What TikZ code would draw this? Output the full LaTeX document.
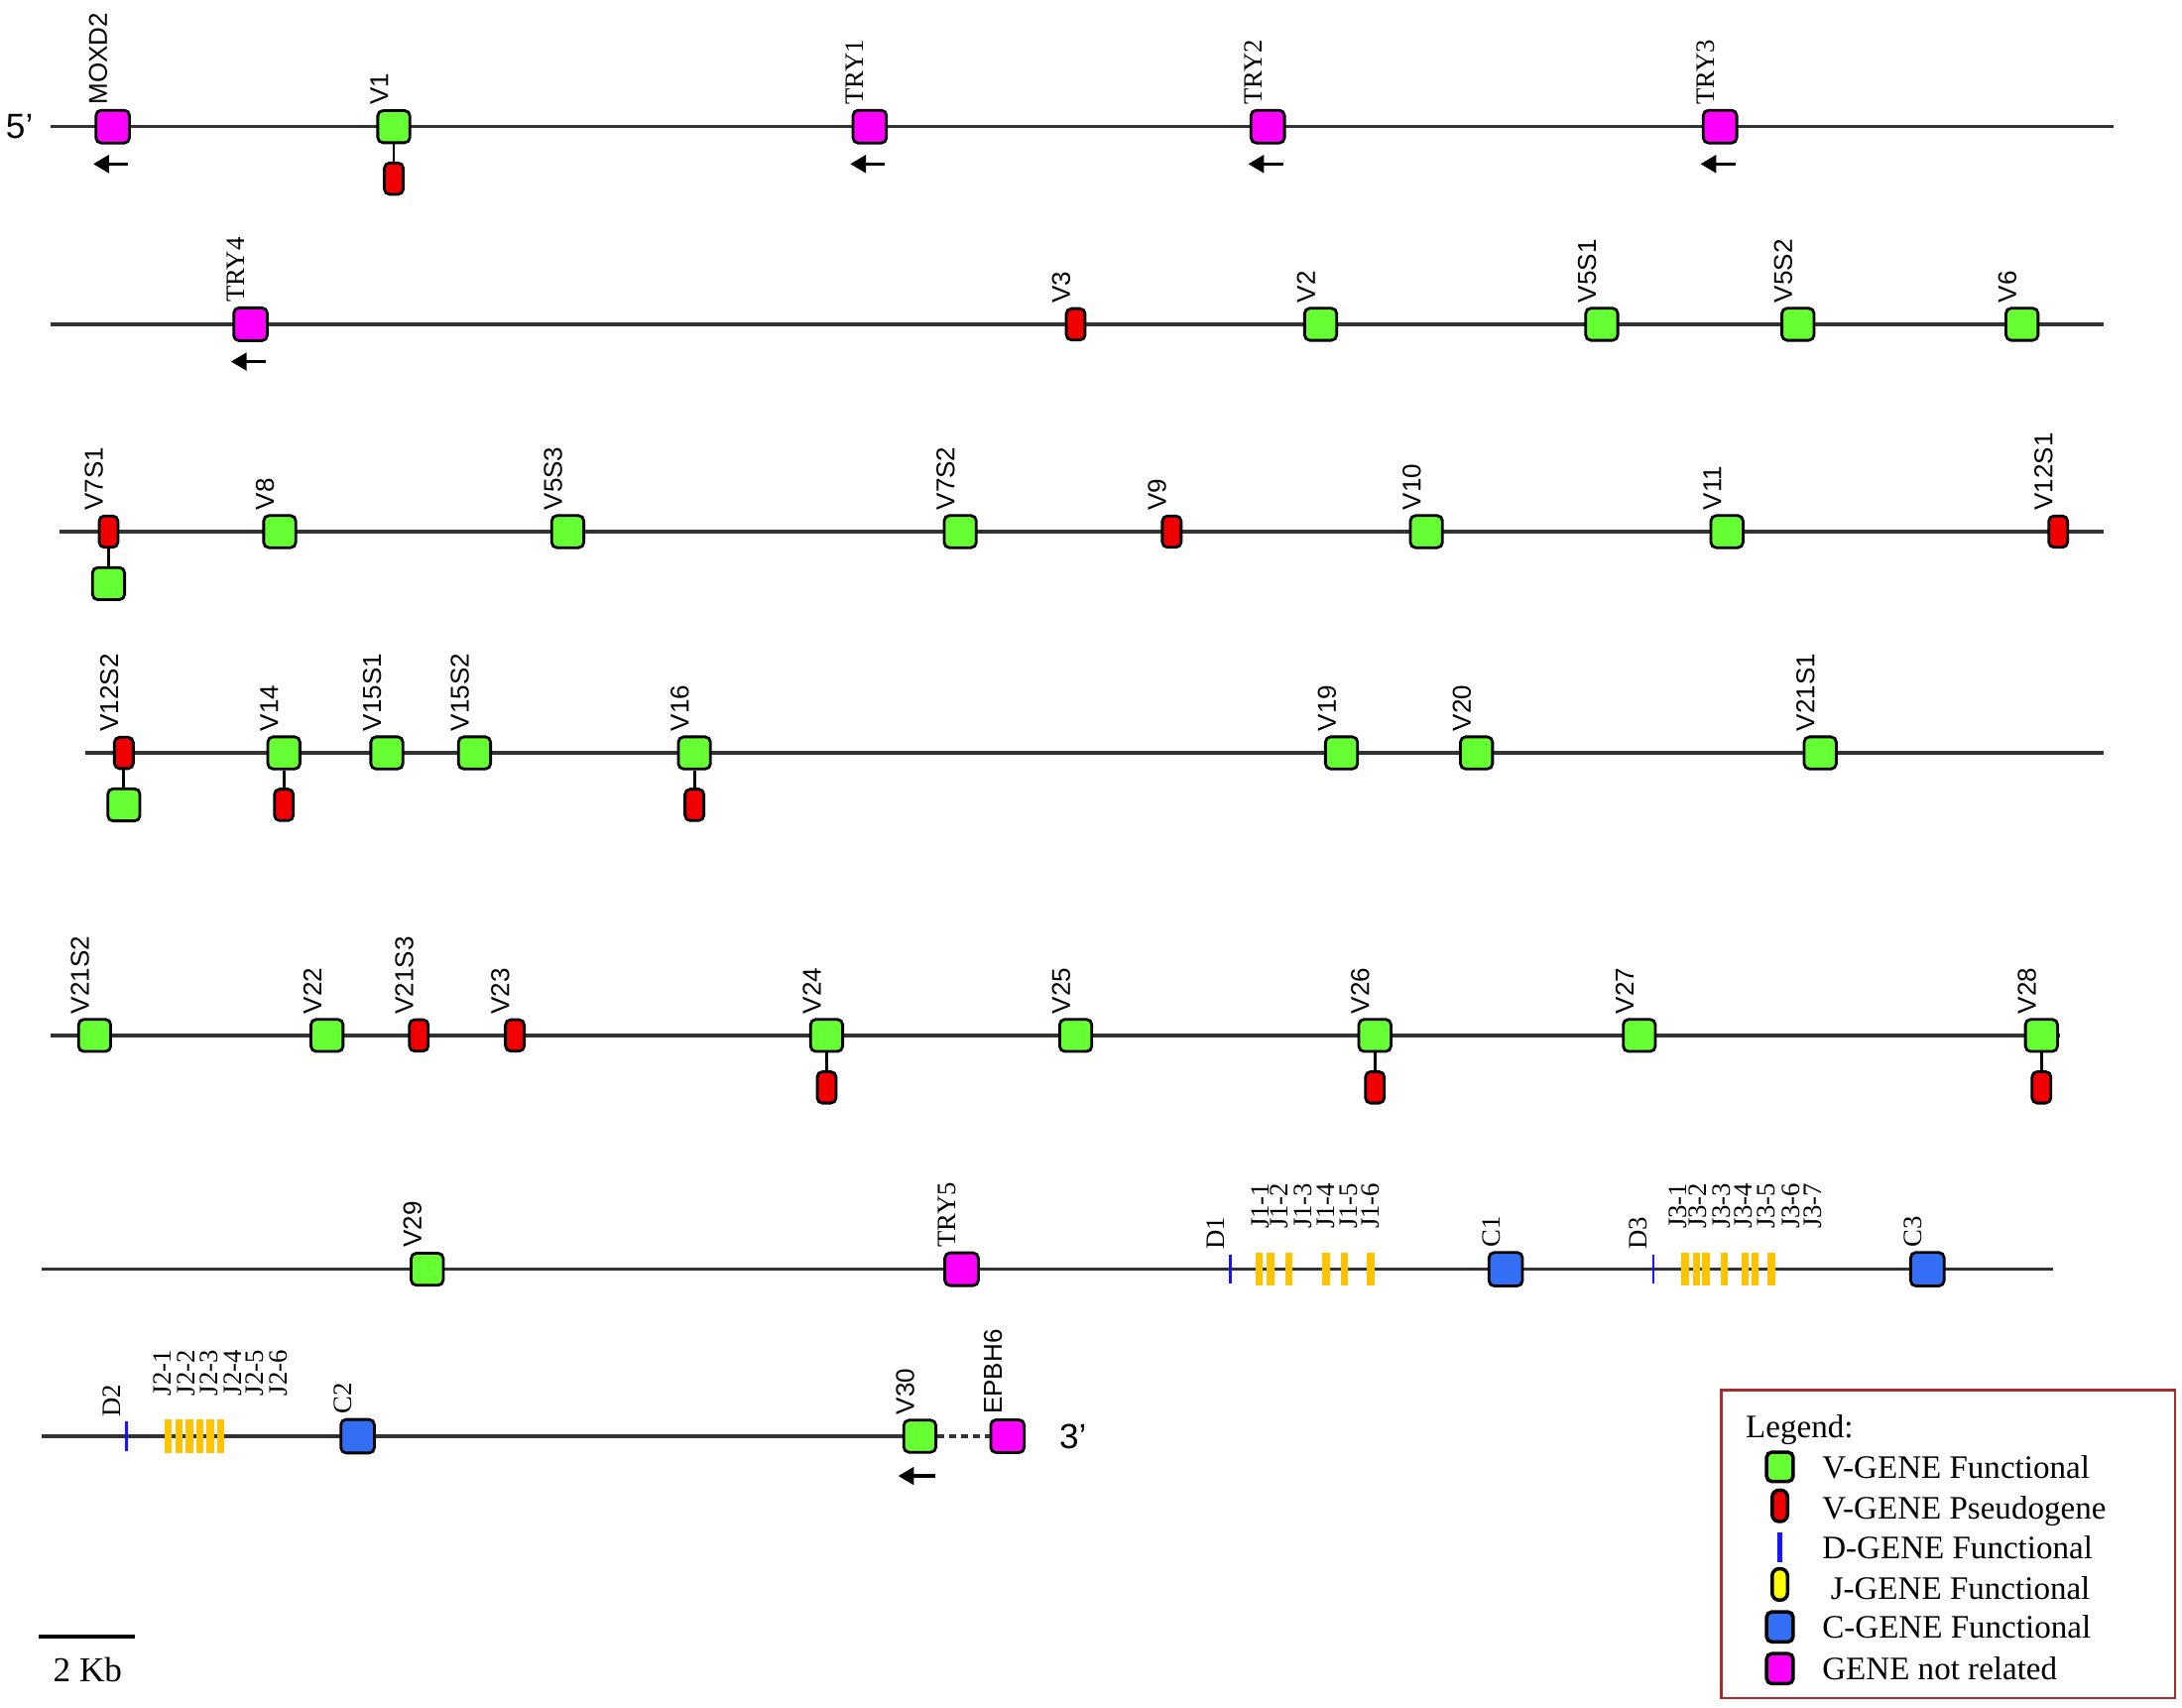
\documentclass[tikz,border=0pt]{standalone}
\usepackage{fontspec}
\setmainfont{Liberation Serif}
\setsansfont{Liberation Sans}
\usetikzlibrary{arrows.meta, positioning}
\definecolor{vgreen}{RGB}{102,255,51}
\definecolor{vred}{RGB}{240,0,0}
\definecolor{cblue}{RGB}{51,110,245}
\definecolor{nrpink}{RGB}{255,0,255}
\definecolor{jorange}{RGB}{255,195,0}
\definecolor{jyellow}{RGB}{255,255,0}
\definecolor{dblue}{RGB}{20,20,255}
\definecolor{keyred}{RGB}{165,45,45}

\begin{document}
\begin{tikzpicture}[x=0.01403cm, y=-0.01403cm, label distance=4.2pt, >=Stealth]
  % Define styles
  \tikzstyle{box} = [rectangle, draw=black, line width=0.8pt, rounded corners=1.5pt, inner sep=0pt]
  \tikzstyle{vfun} = [box, fill=vgreen, minimum width=9.2pt, minimum height=9.2pt]
  \tikzstyle{vpseudo} = [box, fill=vred, minimum width=5.4pt, minimum height=9pt]
  \tikzstyle{cgene} = [box, fill=cblue, minimum width=9.6pt, minimum height=9.6pt]
  \tikzstyle{other} = [box, fill=nrpink, minimum width=9.6pt, minimum height=9.4pt]
  \tikzstyle{dgene} = [rectangle, fill=dblue, minimum width=0.7pt, minimum height=8.4pt, inner sep=0pt]
  \tikzstyle{jgene} = [rectangle, fill=jorange, minimum width=2.1pt, minimum height=9.4pt, inner sep=0pt]
  \tikzstyle{vlab} = [rotate=90, anchor=west, inner sep=1pt, font=\sffamily\fontsize{7.4}{8}\selectfont]
  \tikzstyle{glab} = [rotate=90, anchor=west, inner sep=1pt, font=\fontsize{7.6}{8}\selectfont]
  \tikzstyle{endlab} = [font=\sffamily\fontsize{10}{10}\selectfont]
  \tikzstyle{keytext} = [anchor=base west, inner sep=0pt, font=\fontsize{9.4}{10}\selectfont]
  \tikzstyle{dna} = [draw=black!80, line width=1pt]
  \tikzstyle{link} = [draw=black, line width=0.8pt]
  \tikzstyle{dir} = [draw, line width=1pt, -{Triangle[length=4.5pt, width=5pt]}]

  \useasboundingbox (0,0) rectangle (1568,1227);

  % Row 1
  \coordinate (r1a) at (36,91);
  \coordinate (r1b) at (1519,91);
  \path [dna] (r1a) -- (r1b);
  \node [endlab] (five) at (14,91) {5'};
  \node [other, label={[vlab]above:MOXD2}] (moxd2) at (81,91) {};
  \node [vfun, label={[vlab]above:V1}] (v1) at (283,91) {};
  \node [vpseudo, below=5pt of v1] (v1p) {};
  \node [other, label={[glab]above:TRY1}] (try1) at (625,91) {};
  \node [other, label={[glab]above:TRY2}] (try2) at (911,91) {};
  \node [other, label={[glab]above:TRY3}] (try3) at (1236,91) {};
  \path [link] (v1) -- (v1p);
  \path [dir] ([xshift=4.4pt, yshift=-5.6pt]moxd2.south) -- ++(-10pt,0);
  \path [dir] ([xshift=4.4pt, yshift=-5.6pt]try1.south) -- ++(-10pt,0);
  \path [dir] ([xshift=4.4pt, yshift=-5.6pt]try2.south) -- ++(-10pt,0);
  \path [dir] ([xshift=4.4pt, yshift=-5.6pt]try3.south) -- ++(-10pt,0);

  % Row 2
  \coordinate (r2a) at (36,233);
  \coordinate (r2b) at (1512,233);
  \path [dna] (r2a) -- (r2b);
  \node [other, label={[glab]above:TRY4}] (try4) at (180,233) {};
  \node [vpseudo, label={[vlab]above:V3}] (v3) at (773,233) {};
  \node [vfun, label={[vlab]above:V2}] (v2) at (949,233) {};
  \node [vfun, label={[vlab]above:V5S1}] (v5s1) at (1151,233) {};
  \node [vfun, label={[vlab]above:V5S2}] (v5s2) at (1292,233) {};
  \node [vfun, label={[vlab]above:V6}] (v6) at (1453,233) {};
  \path [dir] ([xshift=4.4pt, yshift=-5.6pt]try4.south) -- ++(-10pt,0);

  % Row 3
  \coordinate (r3a) at (43,382);
  \coordinate (r3b) at (1512,382);
  \path [dna] (r3a) -- (r3b);
  \node [vpseudo, label={[vlab]above:V7S1}] (v7s1) at (78,382) {};
  \node [vfun, below=5pt of v7s1] (v7s1f) {};
  \node [vfun, label={[vlab]above:V8}] (v8) at (201,382) {};
  \node [vfun, label={[vlab]above:V5S3}] (v5s3) at (408,382) {};
  \node [vfun, label={[vlab]above:V7S2}] (v7s2) at (690,382) {};
  \node [vpseudo, label={[vlab]above:V9}] (v9) at (842,382) {};
  \node [vfun, label={[vlab]above:V10}] (v10) at (1025,382) {};
  \node [vfun, label={[vlab]above:V11}] (v11) at (1241,382) {};
  \node [vpseudo, label={[vlab]above:V12S1}] (v12s1) at (1479,382) {};
  \path [link] (v7s1) -- (v7s1f);

  % Row 4
  \coordinate (r4a) at (61,541);
  \coordinate (r4b) at (1512,541);
  \path [dna] (r4a) -- (r4b);
  \node [vpseudo, label={[vlab]above:V12S2}] (v12s2) at (89,541) {};
  \node [vfun, below=5pt of v12s2] (v12s2f) {};
  \node [vfun, label={[vlab]above:V14}] (v14) at (204,541) {};
  \node [vpseudo, below=5pt of v14] (v14p) {};
  \node [vfun, label={[vlab]above:V15S1}] (v15s1) at (278,541) {};
  \node [vfun, label={[vlab]above:V15S2}] (v15s2) at (341,541) {};
  \node [vfun, label={[vlab]above:V16}] (v16) at (499,541) {};
  \node [vpseudo, below=5pt of v16] (v16p) {};
  \node [vfun, label={[vlab]above:V19}] (v19) at (964,541) {};
  \node [vfun, label={[vlab]above:V20}] (v20) at (1061,541) {};
  \node [vfun, label={[vlab]above:V21S1}] (v21s1) at (1308,541) {};
  \path [link] (v12s2) -- (v12s2f);
  \path [link] (v14) -- (v14p);
  \path [link] (v16) -- (v16p);

  % Row 5
  \coordinate (r5a) at (36,744);
  \coordinate (r5b) at (1480,744);
  \path [dna] (r5a) -- (r5b);
  \node [vfun, label={[vlab]above:V21S2}] (v21s2) at (68,744) {};
  \node [vfun, label={[vlab]above:V22}] (v22) at (235,744) {};
  \node [vpseudo, label={[vlab]above:V21S3}] (v21s3) at (301,744) {};
  \node [vpseudo, label={[vlab]above:V23}] (v23) at (370,744) {};
  \node [vfun, label={[vlab]above:V24}] (v24) at (594,744) {};
  \node [vpseudo, below=5pt of v24] (v24p) {};
  \node [vfun, label={[vlab]above:V25}] (v25) at (773,744) {};
  \node [vfun, label={[vlab]above:V26}] (v26) at (988,744) {};
  \node [vpseudo, below=5pt of v26] (v26p) {};
  \node [vfun, label={[vlab]above:V27}] (v27) at (1178,744) {};
  \node [vfun, label={[vlab]above:V28}] (v28) at (1467,744) {};
  \node [vpseudo, below=5pt of v28] (v28p) {};
  \path [link] (v24) -- (v24p);
  \path [link] (v26) -- (v26p);
  \path [link] (v28) -- (v28p);

  % Row 6
  \coordinate (r6a) at (30,912);
  \coordinate (r6b) at (1475,912);
  \path [dna] (r6a) -- (r6b);
  \node [vfun, label={[vlab]above:V29}] (v29) at (307,912) {};
  \node [other, label={[glab]above:TRY5}] (try5) at (691,912) {};
  \node [dgene, label={[glab]above:D1}] (d1) at (884,912) {};
  \node [jgene] (j11) at (905,912) {};
  \node [jgene] (j12) at (913,912) {};
  \node [jgene] (j13) at (926,912) {};
  \node [jgene] (j14) at (953,912) {};
  \node [jgene] (j15) at (966,912) {};
  \node [jgene] (j16) at (985,912) {};
  \node [glab] (lj11) at (906,886) {J1-1};
  \node [glab] (lj12) at (919,886) {J1-2};
  \node [glab] (lj13) at (936,886) {J1-3};
  \node [glab] (lj14) at (953,886) {J1-4};
  \node [glab] (lj15) at (969,886) {J1-5};
  \node [glab] (lj16) at (985,886) {J1-6};
  \node [cgene, label={[glab]above:C1}] (c1) at (1082,912) {};
  \node [dgene, label={[glab]above:D3}] (d3) at (1188,912) {};
  \node [jgene] (j31) at (1211,912) {};
  \node [jgene] (j32) at (1219,912) {};
  \node [jgene] (j33) at (1226,912) {};
  \node [jgene] (j34) at (1239,912) {};
  \node [jgene] (j35) at (1254,912) {};
  \node [jgene] (j36) at (1261,912) {};
  \node [jgene] (j37) at (1273,912) {};
  \node [glab] (lj31) at (1206,886) {J3-1};
  \node [glab] (lj32) at (1220,886) {J3-2};
  \node [glab] (lj33) at (1237,886) {J3-3};
  \node [glab] (lj34) at (1253,886) {J3-4};
  \node [glab] (lj35) at (1269,886) {J3-5};
  \node [glab] (lj36) at (1287,886) {J3-6};
  \node [glab] (lj37) at (1303,886) {J3-7};
  \node [cgene, label={[glab]above:C3}] (c3) at (1385,912) {};

  % Row 7
  \coordinate (r7a) at (30,1032);
  \coordinate (r7b) at (661,1032);
  \path [dna] (r7a) -- (r7b);
  \node [dgene, label={[glab]above:D2}] (d2) at (91,1032) {};
  \node [jgene] (j21) at (121,1032) {};
  \node [jgene] (j22) at (128.5,1032) {};
  \node [jgene] (j23) at (136,1032) {};
  \node [jgene] (j24) at (143.5,1032) {};
  \node [jgene] (j25) at (151,1032) {};
  \node [jgene] (j26) at (158.5,1032) {};
  \node [glab] (lj21) at (117,1006) {J2-1};
  \node [glab] (lj22) at (134,1006) {J2-2};
  \node [glab] (lj23) at (150,1006) {J2-3};
  \node [glab] (lj24) at (167,1006) {J2-4};
  \node [glab] (lj25) at (183,1006) {J2-5};
  \node [glab] (lj26) at (200,1006) {J2-6};
  \node [cgene, label={[glab]above:C2}] (c2) at (257,1032) {};
  \node [vfun, label={[vlab]above:V30}] (v30) at (661,1032) {};
  \node [other, label={[vlab]above:EPBH6}] (epbh6) at (724,1032) {};
  \node [endlab] (three) at (771,1032) {3'};
  \path [dna, dash pattern=on 2pt off 1.4pt] (v30) -- (epbh6);
  \path [dir] ([xshift=4.4pt, yshift=-6.4pt]v30.south) -- ++(-10.6pt,0);

  % Scale bar
  \coordinate (sba) at (28,1176);
  \coordinate (sbb) at (97,1176);
  \path [draw, line width=1pt] (sba) -- (sbb);
  \node [font=\fontsize{10}{10}\selectfont] (sblabel) at (63,1200) {2 Kb};

  % Key (Legend)
  \coordinate (keyNW) at (1237,999);
  \coordinate (keySE) at (1563,1220);
  \draw [keyred, line width=0.7pt] (keyNW) rectangle (keySE);
  \node [keytext] (keyLabel) at (1254,1033) {Legend:};
  \node [vfun, line width=1pt, minimum width=7.6pt, minimum height=8.4pt] (keyV) at (1279,1054) {};
  \node [keytext] (keyVText) at (1309,1062) {V-GENE Functional};
  \node [vpseudo, line width=1pt, minimum width=4.4pt, minimum height=9pt, rounded corners=2pt] (keyP) at (1279,1082) {};
  \node [keytext] (keyPText) at (1309,1091.5) {V-GENE Pseudogene};
  \node [dgene, minimum width=1.2pt, minimum height=8.4pt] (keyD) at (1279,1112) {};
  \node [keytext] (keyDText) at (1309,1120) {D-GENE Functional};
  \node [box, fill=jyellow, line width=1pt, minimum width=4.4pt, minimum height=9pt, rounded corners=2pt] (keyJ) at (1279,1138.5) {};
  \node [keytext] (keyJText) at (1315,1149) {J-GENE Functional};
  \node [cgene, line width=1pt, minimum width=7.6pt, minimum height=8.6pt] (keyC) at (1279,1169) {};
  \node [keytext] (keyCText) at (1309,1177) {C-GENE Functional};
  \node [other, line width=1pt, minimum width=7.6pt, minimum height=8.6pt] (keyN) at (1279,1199) {};
  \node [keytext] (keyNText) at (1309,1207) {GENE not related};
\end{tikzpicture}
\end{document}
